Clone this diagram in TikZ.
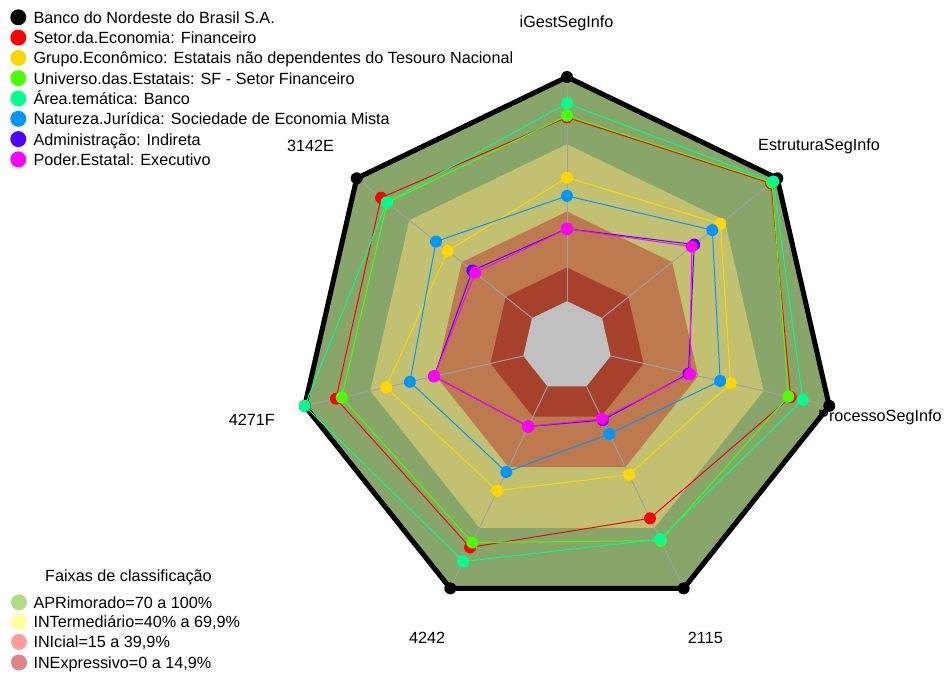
\documentclass[tikz,border=0pt]{standalone}
\usepackage{fontspec}
\setmainfont{Liberation Sans}
\usetikzlibrary{calc}
\definecolor{bandA}{HTML}{88A66A}
\definecolor{bandB}{HTML}{C2C172}
\definecolor{bandC}{HTML}{BE7A4F}
\definecolor{bandD}{HTML}{A6412B}
\definecolor{bandE}{HTML}{C0C0C0}
\definecolor{spokec}{HTML}{A0A0A0}
\definecolor{sred}{HTML}{FF0000}
\definecolor{syellow}{HTML}{FFD700}
\definecolor{sgreen}{HTML}{4CFF00}
\definecolor{scyan}{HTML}{00FF8C}
\definecolor{sblue}{HTML}{0096FF}
\definecolor{spurple}{HTML}{5000FF}
\definecolor{smagenta}{HTML}{FF00FF}
\definecolor{legA}{HTML}{B3DC88}
\definecolor{legB}{HTML}{FFFF99}
\definecolor{legC}{HTML}{FF9D9D}
\definecolor{legD}{HTML}{DE8585}
\newcommand\heptpath[1]{(-90:#1) -- (-38.5714:#1) -- (12.8571:#1) -- (64.2857:#1) -- (115.7143:#1) -- (167.1429:#1) -- (218.5714:#1) -- cycle}
\newcommand\radarseries[3]{%
  \foreach \v [count=\k from 0] in {#3} {\coordinate (#1\k) at (-90+51.42857*\k:\v*269);}
  \draw[#2, line width=1pt, line join=round] (#10)--(#11)--(#12)--(#13)--(#14)--(#15)--(#16)--cycle;
  \foreach \k in {0,...,6} {\fill[#2] (#1\k) circle (6pt);}
}
\tikzset{
  lbl/.style={font=\fontsize{16.2}{19}\selectfont, inner sep=0pt, text=black},
  legdot/.style={circle, minimum size=16pt, inner sep=0pt},
}
\begin{document}
\begin{tikzpicture}[x=1pt,y=-1pt]
\useasboundingbox (0,0) rectangle (948,673);
\fill[white] (0,0) rectangle (948,673);
\begin{scope}[shift={(567,346)}]
  \fill[bandA] \heptpath{269};
  \fill[bandB] \heptpath{201.75};
  \fill[bandC] \heptpath{134.5};
  \fill[bandD] \heptpath{78.46};
  \foreach \k in {0,...,6} {\draw[spokec, line width=1pt] (-90+51.42857*\k:44.83) -- (-90+51.42857*\k:269);}
  \fill[bandE] \heptpath{44.83};
  % black series
  \radarseries{bk}{black}{1,1,1,1,1,1,1}
  \draw[black, line width=5pt, line join=round] (bk0)--(bk1)--(bk2)--(bk3)--(bk4)--(bk5)--(bk6)--cycle;
  \radarseries{rd}{sred}{0.85,0.97,0.853,0.711,0.831,0.881,0.884}
  \radarseries{yl}{syellow}{0.626,0.729,0.624,0.531,0.597,0.690,0.567}
  \radarseries{gr}{sgreen}{0.856,0.975,0.844,0.803,0.811,0.859,0.855}
  \radarseries{cy}{scyan}{0.902,0.981,0.899,0.797,0.889,1.0,0.857}
  \radarseries{bl}{sblue}{0.558,0.691,0.584,0.363,0.52,0.599,0.623}
  \radarseries{pu}{spurple}{0.436,0.605,0.463,0.306,0.332,0.507,0.45}
  \radarseries{mg}{smagenta}{0.436,0.593,0.469,0.30,0.332,0.507,0.437}
\end{scope}
% axis labels
\node[lbl, anchor=base] (ax1) at (566.5,27.3) {iGestSegInfo};
\node[lbl, anchor=base] (ax2) at (819,150) {EstruturaSegInfo};
\node[lbl, anchor=base west] (ax3) at (818,421.7) {ProcessoSegInfo};
\node[lbl, anchor=base east] (ax4) at (723,643.3) {2115};
\node[lbl, anchor=base west] (ax5) at (409,643.3) {4242};
\node[lbl, anchor=base east] (ax6) at (275,425) {4271F};
\node[lbl, anchor=base west] (ax7) at (287,151.7) {3142E};
% series legend
\foreach \c/\t [count=\i from 0] in {black/{Banco do Nordeste do Brasil S.A.}, sred/{Setor.da.Economia: Financeiro}, syellow/{Grupo.Econômico: Estatais não dependentes do Tesouro Nacional}, sgreen/{Universo.das.Estatais: SF - Setor Financeiro}, scyan/{Área.temática: Banco}, sblue/{Natureza.Jurídica: Sociedade de Economia Mista}, spurple/{Administração: Indireta}, smagenta/{Poder.Estatal: Executivo}} {
  \node[legdot, fill=\c] (ld\i) at (18.3,17.3+20.3*\i) {};
  \node[lbl, anchor=base west] (lt\i) at (33.3,23.3+20.3*\i) {\t};
}
% band legend
\node[lbl, anchor=base] (ftitle) at (128.5,581.7) {Faixas de classificação};
\foreach \c/\t/\yy [count=\i from 0] in {legA/{APRimorado=70 a 100\%}/602.3, legB/{INTermediário=40\% a 69,9\%}/621.9, legC/{INIcial=15 a 39,9\%}/641.9, legD/{INExpressivo=0 a 14,9\%}/662.5} {
  \node[legdot, fill=\c] (fd\i) at (19,\yy) {};
  \node[lbl, anchor=base west] (ft\i) at (33.3,\yy+6) {\t};
}
\end{tikzpicture}
\end{document}
